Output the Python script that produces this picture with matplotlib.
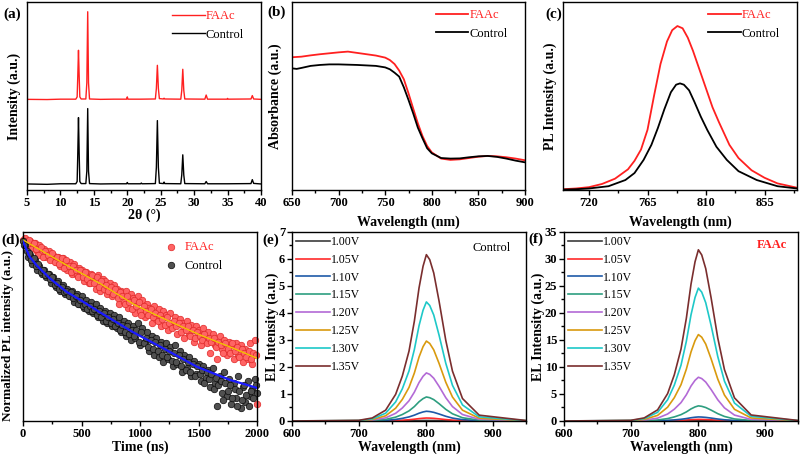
import matplotlib
matplotlib.use("Agg")
import matplotlib.pyplot as plt
from matplotlib.ticker import MultipleLocator

plt.rcParams['font.family'] = ['Liberation Serif', 'DejaVu Serif']

# ---------- (a) XRD ----------
xrd_ctrl_2theta = [5.0, 8.0, 10.0, 12.3, 12.5, 12.6, 12.7, 12.8, 12.9, 13.1, 13.8, 13.95, 14.08, 14.2, 14.35,
                   16.0, 18.0, 19.9, 20.0, 20.1, 22.0, 22.1, 22.2, 24.2, 24.35, 24.5, 24.65, 24.8, 25.4, 25.5,
                   25.6, 28.0, 28.15, 28.3, 28.45, 28.6, 31.6, 31.8, 32.0, 35.0, 38.5, 38.7, 38.9, 40.0]
xrd_ctrl = [0.032, 0.030, 0.033, 0.033, 0.045, 0.20, 0.385, 0.20, 0.045, 0.034, 0.034, 0.10, 0.433, 0.10, 0.034,
            0.032, 0.033, 0.033, 0.040, 0.033, 0.033, 0.037, 0.033, 0.034, 0.12, 0.369, 0.12, 0.036, 0.034, 0.042,
            0.034, 0.033, 0.08, 0.187, 0.08, 0.034, 0.033, 0.045, 0.033, 0.033, 0.034, 0.055, 0.035, 0.032]
xrd_faac_2theta = [5.0, 8.0, 10.0, 12.3, 12.5, 12.6, 12.7, 12.8, 12.9, 13.1, 13.8, 13.95, 14.08, 14.2, 14.35,
                   16.0, 18.0, 19.9, 20.0, 20.1, 22.0, 24.2, 24.35, 24.5, 24.65, 24.8, 25.4, 25.5, 25.6,
                   28.0, 28.15, 28.3, 28.45, 28.6, 31.6, 31.8, 32.0, 34.9, 35.0, 35.1, 38.5, 38.7, 38.9, 40.0]
xrd_faac = [0.032, 0.031, 0.033, 0.033, 0.045, 0.16, 0.293, 0.16, 0.045, 0.034, 0.034, 0.12, 0.498, 0.12, 0.034,
            0.032, 0.033, 0.033, 0.045, 0.033, 0.033, 0.034, 0.09, 0.213, 0.09, 0.036, 0.034, 0.038, 0.034,
            0.033, 0.08, 0.192, 0.08, 0.034, 0.033, 0.055, 0.033, 0.033, 0.037, 0.033, 0.034, 0.052, 0.034, 0.032]
xrd_offset = 0.45

# ---------- (b) absorbance ----------
abs_wl_ctrl = [650, 655, 660, 670, 680, 690, 700, 720, 740, 750, 755, 760, 765, 770, 775, 780, 785, 790, 795,
               800, 810, 820, 830, 840, 850, 860, 870, 880, 890, 900]
abs_ctrl = [0.647, 0.644, 0.649, 0.660, 0.665, 0.668, 0.668, 0.665, 0.660, 0.652, 0.642, 0.624, 0.603, 0.546,
            0.479, 0.408, 0.332, 0.275, 0.222, 0.195, 0.170, 0.167, 0.168, 0.174, 0.179, 0.181, 0.176, 0.167,
            0.156, 0.147]
abs_wl_faac = [650, 660, 670, 680, 690, 700, 710, 720, 730, 740, 750, 755, 760, 765, 770, 775, 780, 785, 790,
               795, 800, 810, 820, 830, 840, 850, 860, 870, 880, 890, 900]
abs_faac = [0.706, 0.709, 0.716, 0.722, 0.727, 0.732, 0.736, 0.729, 0.722, 0.715, 0.704, 0.691, 0.670, 0.635,
            0.589, 0.514, 0.434, 0.355, 0.287, 0.234, 0.200, 0.167, 0.160, 0.163, 0.170, 0.177, 0.181, 0.179,
            0.174, 0.167, 0.158]

# ---------- (c) steady-state PL ----------
pl_wl_faac = [700, 710, 720, 730, 740, 750, 755, 760, 765, 770, 775, 780, 784, 788, 792, 796, 800, 805, 810,
              815, 820, 828, 835, 845, 855, 865, 880]
pl_faac = [0.004, 0.008, 0.015, 0.032, 0.06, 0.11, 0.155, 0.215, 0.32, 0.50, 0.67, 0.79, 0.85, 0.872, 0.86,
           0.81, 0.74, 0.64, 0.54, 0.44, 0.36, 0.24, 0.17, 0.105, 0.065, 0.035, 0.012]
pl_wl_ctrl = [700, 710, 720, 735, 748, 755, 762, 768, 773, 778, 783, 787, 790, 793, 797, 801, 806, 811, 818,
              826, 835, 849, 865, 880]
pl_ctrl = [0.002, 0.004, 0.008, 0.02, 0.053, 0.09, 0.16, 0.24, 0.33, 0.43, 0.52, 0.56, 0.567, 0.56, 0.53,
           0.47, 0.39, 0.319, 0.23, 0.16, 0.10, 0.053, 0.02, 0.008]

# ---------- (d) TRPL ----------
trpl_t = [0, 20, 40, 60, 80, 100, 120, 140, 160, 180, 200, 220, 240, 260, 280, 300, 320, 340, 360, 380,
          400, 420, 440, 460, 480, 500, 520, 540, 560, 580, 600, 620, 640, 660, 680, 700, 720, 740, 760, 780,
          800, 820, 840, 860, 880, 900, 920, 940, 960, 980, 1000, 1020, 1040, 1060, 1080, 1100, 1120, 1140,
          1160, 1180, 1200, 1220, 1240, 1260, 1280, 1300, 1320, 1340, 1360, 1380, 1400, 1420, 1440, 1460,
          1480, 1500, 1520, 1540, 1560, 1580, 1600, 1620, 1640, 1660, 1680, 1700, 1720, 1740, 1760, 1780,
          1800, 1820, 1840, 1860, 1880, 1900, 1920, 1940, 1960, 1980, 2000]
trpl_faac = [0.96, 0.97, 0.94, 0.95, 0.92, 0.94, 0.90, 0.93, 0.89, 0.91, 0.87, 0.90, 0.86, 0.88, 0.84, 0.87,
             0.82, 0.86, 0.84, 0.80, 0.84, 0.78, 0.83, 0.77, 0.81, 0.80, 0.74, 0.79, 0.73, 0.78, 0.76, 0.70,
             0.77, 0.69, 0.75, 0.74, 0.67, 0.73, 0.66, 0.72, 0.70, 0.62, 0.69, 0.63, 0.69, 0.60, 0.67, 0.65,
             0.57, 0.66, 0.58, 0.64, 0.55, 0.62, 0.60, 0.52, 0.61, 0.54, 0.59, 0.50, 0.58, 0.56, 0.48, 0.57,
             0.50, 0.55, 0.46, 0.54, 0.52, 0.44, 0.53, 0.46, 0.51, 0.42, 0.50, 0.48, 0.40, 0.49, 0.43, 0.47,
             0.36, 0.46, 0.40, 0.33, 0.45, 0.38, 0.43, 0.35, 0.42, 0.40, 0.33, 0.41, 0.35, 0.40, 0.31, 0.38,
             0.33, 0.41, 0.30, 0.43, 0.09]
trpl_ctrl = [0.95, 0.93, 0.87, 0.88, 0.83, 0.85, 0.80, 0.82, 0.78, 0.80, 0.76, 0.78, 0.73, 0.76, 0.71, 0.74,
             0.69, 0.72, 0.67, 0.70, 0.66, 0.69, 0.63, 0.67, 0.62, 0.66, 0.60, 0.64, 0.58, 0.63, 0.57, 0.62,
             0.55, 0.60, 0.53, 0.58, 0.52, 0.57, 0.50, 0.56, 0.49, 0.55, 0.47, 0.53, 0.45, 0.52, 0.43, 0.50,
             0.44, 0.52, 0.40, 0.49, 0.42, 0.47, 0.37, 0.45, 0.35, 0.44, 0.34, 0.42, 0.31, 0.41, 0.33, 0.39,
             0.29, 0.40, 0.30, 0.37, 0.26, 0.35, 0.28, 0.34, 0.24, 0.32, 0.25, 0.30, 0.21, 0.29, 0.23, 0.27,
             0.18, 0.28, 0.20, 0.08, 0.24, 0.15, 0.26, 0.13, 0.22, 0.09, 0.20, 0.12, 0.24, 0.07, 0.18, 0.10,
             0.21, 0.13, 0.17, 0.22, 0.15]
trpl_t2 = [10, 30, 50, 70, 90, 110, 130, 150, 170, 190, 210, 230, 250, 270, 290, 310, 330, 350, 370, 390,
           410, 430, 450, 470, 490, 510, 530, 550, 570, 590, 610, 630, 650, 670, 690, 710, 730, 750, 770, 790,
           810, 830, 850, 870, 890, 910, 930, 950, 970, 990, 1010, 1030, 1050, 1070, 1090, 1110, 1130, 1150,
           1170, 1190, 1210, 1230, 1250, 1270, 1290, 1310, 1330, 1350, 1370, 1390, 1410, 1430, 1450, 1470,
           1490, 1510, 1530, 1550, 1570, 1590, 1610, 1630, 1650, 1670, 1690, 1710, 1730, 1750, 1770, 1790,
           1810, 1830, 1850, 1870, 1890, 1910, 1930, 1950, 1970, 1990]
trpl_faac2 = [0.95, 0.93, 0.96, 0.91, 0.94, 0.91, 0.88, 0.92, 0.87, 0.90, 0.88, 0.85, 0.89, 0.84, 0.87, 0.83,
              0.86, 0.81, 0.85, 0.82, 0.79, 0.82, 0.80, 0.76, 0.80, 0.76, 0.79, 0.75, 0.73, 0.77, 0.73, 0.76,
              0.71, 0.74, 0.70, 0.72, 0.69, 0.71, 0.67, 0.70, 0.65, 0.68, 0.66, 0.62, 0.66, 0.63, 0.59, 0.64,
              0.61, 0.63, 0.56, 0.61, 0.58, 0.56, 0.59, 0.55, 0.57, 0.53, 0.56, 0.54, 0.51, 0.55, 0.52, 0.49,
              0.53, 0.50, 0.52, 0.47, 0.50, 0.48, 0.50, 0.45, 0.48, 0.44, 0.47, 0.45, 0.43, 0.46, 0.41, 0.44,
              0.42, 0.44, 0.39, 0.42, 0.40, 0.36, 0.41, 0.38, 0.36, 0.41, 0.37, 0.39, 0.34, 0.38, 0.36, 0.34,
              0.37, 0.33, 0.36, 0.35]
trpl_ctrl2 = [0.93, 0.90, 0.89, 0.85, 0.86, 0.82, 0.83, 0.79, 0.80, 0.77, 0.78, 0.75, 0.76, 0.72, 0.73, 0.70,
              0.71, 0.68, 0.69, 0.66, 0.68, 0.65, 0.66, 0.62, 0.64, 0.61, 0.62, 0.59, 0.61, 0.58, 0.59, 0.56,
              0.58, 0.55, 0.57, 0.53, 0.55, 0.52, 0.54, 0.50, 0.52, 0.48, 0.51, 0.47, 0.50, 0.46, 0.48, 0.45,
              0.48, 0.42, 0.47, 0.41, 0.44, 0.39, 0.43, 0.38, 0.42, 0.37, 0.40, 0.35, 0.38, 0.34, 0.37, 0.32,
              0.36, 0.31, 0.35, 0.29, 0.33, 0.27, 0.31, 0.26, 0.30, 0.24, 0.29, 0.25, 0.27, 0.20, 0.26, 0.22,
              0.25, 0.17, 0.23, 0.19, 0.21, 0.11, 0.20, 0.16, 0.19, 0.12, 0.17, 0.08, 0.16, 0.11, 0.19, 0.14,
              0.08, 0.16, 0.12, 0.19]
fit_t_faac = [0, 371, 657, 957, 1229, 1514, 1800, 2000]
fit_faac = [0.958, 0.825, 0.728, 0.614, 0.534, 0.455, 0.384, 0.332]
fit_t_ctrl = [0, 57, 114, 229, 371, 514, 657, 800, 943, 1200, 1486, 1771, 2000]
fit_ctrl = [0.949, 0.869, 0.825, 0.755, 0.684, 0.631, 0.575, 0.522, 0.469, 0.384, 0.287, 0.217, 0.175]

# ---------- (e), (f) EL ----------
voltages = ['1.00V', '1.05V', '1.10V', '1.15V', '1.20V', '1.25V', '1.30V', '1.35V']
el_colors = ['#3c3c3c', '#ff2a2a', '#1f5aa8', '#2e9e80', '#b36ad6', '#d99a0e', '#1ec8c8', '#7a2e2e']
el_wl = [600, 700, 720, 740, 755, 765, 775, 783, 790, 796, 801, 806, 812, 820, 830, 840, 855, 880, 950]
el_control = [
    [0, 0.0, 0.0, 0.001, 0.003, 0.005, 0.008, 0.012, 0.016, 0.019, 0.02, 0.019, 0.018, 0.014, 0.01, 0.006, 0.003, 0.001, 0.0],
    [0, 0.0, 0.002, 0.007, 0.018, 0.03, 0.046, 0.066, 0.088, 0.102, 0.11, 0.107, 0.098, 0.079, 0.053, 0.033, 0.015, 0.004, 0.0],
    [0, 0.001, 0.006, 0.023, 0.058, 0.097, 0.151, 0.216, 0.288, 0.335, 0.36, 0.349, 0.32, 0.259, 0.175, 0.108, 0.049, 0.013, 0.001],
    [0, 0.004, 0.016, 0.058, 0.142, 0.24, 0.374, 0.534, 0.712, 0.828, 0.89, 0.863, 0.792, 0.641, 0.432, 0.267, 0.12, 0.031, 0.003],
    [0, 0.007, 0.032, 0.116, 0.285, 0.481, 0.748, 1.068, 1.424, 1.655, 1.78, 1.727, 1.584, 1.282, 0.863, 0.534, 0.24, 0.062, 0.005],
    [0, 0.012, 0.053, 0.192, 0.474, 0.799, 1.243, 1.776, 2.368, 2.753, 2.96, 2.871, 2.634, 2.131, 1.436, 0.888, 0.4, 0.104, 0.009],
    [0, 0.018, 0.079, 0.287, 0.706, 1.191, 1.852, 2.646, 3.528, 4.101, 4.41, 4.278, 3.925, 3.175, 2.139, 1.323, 0.595, 0.154, 0.013],
    [0, 0.025, 0.111, 0.4, 0.986, 1.663, 2.587, 3.696, 4.928, 5.729, 6.16, 5.975, 5.482, 4.435, 2.988, 1.848, 0.832, 0.216, 0.018],
]
el_faac = [
    [0, 0.0, 0.001, 0.003, 0.008, 0.014, 0.021, 0.03, 0.04, 0.047, 0.05, 0.049, 0.045, 0.036, 0.024, 0.015, 0.007, 0.002, 0.0],
    [0, 0.001, 0.005, 0.02, 0.048, 0.081, 0.126, 0.18, 0.24, 0.279, 0.3, 0.291, 0.267, 0.216, 0.146, 0.09, 0.041, 0.011, 0.001],
    [0, 0.003, 0.014, 0.049, 0.12, 0.203, 0.315, 0.45, 0.6, 0.698, 0.75, 0.728, 0.668, 0.54, 0.364, 0.225, 0.101, 0.026, 0.002],
    [0, 0.011, 0.05, 0.182, 0.448, 0.756, 1.176, 1.68, 2.24, 2.604, 2.8, 2.716, 2.492, 2.016, 1.358, 0.84, 0.378, 0.098, 0.008],
    [0, 0.032, 0.146, 0.527, 1.296, 2.187, 3.402, 4.86, 6.48, 7.533, 8.1, 7.857, 7.209, 5.832, 3.929, 2.43, 1.094, 0.284, 0.024],
    [0, 0.064, 0.288, 1.04, 2.56, 4.32, 6.72, 9.6, 12.8, 14.88, 16.0, 15.52, 14.24, 11.52, 7.76, 4.8, 2.16, 0.56, 0.048],
    [0, 0.098, 0.443, 1.599, 3.936, 6.642, 10.332, 14.76, 19.68, 22.878, 24.6, 23.862, 21.894, 17.712, 11.931, 7.38, 3.321, 0.861, 0.074],
    [0, 0.127, 0.571, 2.061, 5.072, 8.559, 13.314, 19.02, 25.36, 29.481, 31.7, 30.749, 28.213, 22.824, 15.375, 9.51, 4.28, 1.11, 0.095],
]

RED = '#ff2020'
TICK_FS = 9
LABEL_FS = 10


def style(ax, xlabel, ylabel, xlab_y, ylab_x, ylabels=False, ylab_y=0.5, ylab_fs=LABEL_FS):
    for s in ax.spines.values():
        s.set_linewidth(1.0)
    ax.tick_params(which='both', direction='out', width=1.0, labelsize=TICK_FS, pad=1.5)
    ax.tick_params(which='major', length=3.5)
    ax.tick_params(which='minor', length=2)
    if not ylabels:
        ax.set_yticks([])
    for lab in ax.get_xticklabels() + ax.get_yticklabels():
        lab.set_fontweight('bold')
    ax.set_xlabel(xlabel, fontsize=LABEL_FS, fontweight='bold')
    ax.set_ylabel(ylabel, fontsize=ylab_fs, fontweight='bold')
    ax.xaxis.label.set_verticalalignment('center')
    ax.yaxis.label.set_verticalalignment('center')
    ax.xaxis.set_label_coords(0.5, xlab_y)
    ax.yaxis.set_label_coords(ylab_x, ylab_y)


def two_legend(ax, x, y):
    ax.legend(loc='upper left', bbox_to_anchor=(x, y), frameon=False, fontsize=9,
              handlelength=2.6, handletextpad=0.1, labelspacing=0.5, borderpad=0, borderaxespad=0,
              labelcolor='linecolor')


fig = plt.figure(figsize=(8, 4.58), dpi=100)
top_b, top_h = 0.5852, 0.4105
bot_b, bot_h = 0.0808, 0.4127

# (a)
ax = fig.add_axes([0.03375, top_b, 0.2925, top_h])
ax.plot(xrd_faac_2theta, [v + xrd_offset for v in xrd_faac], color=RED, lw=1.0, label='FAAc')
ax.plot(xrd_ctrl_2theta, xrd_ctrl, color='black', lw=1.0, label='Control')
ax.set_xlim(5, 40)
ax.set_ylim(0, 1)
ax.xaxis.set_major_locator(MultipleLocator(5))
ax.xaxis.set_minor_locator(MultipleLocator(2.5))
style(ax, '2θ (°)', 'Intensity (a.u.)', -0.135, -0.056)
two_legend(ax, 0.62, 0.955)

# (b)
ax = fig.add_axes([0.365, top_b, 0.29125, top_h])
ax.plot(abs_wl_faac, abs_faac, color=RED, lw=1.3, label='FAAc')
ax.plot(abs_wl_ctrl, abs_ctrl, color='black', lw=1.3, label='Control')
ax.set_xlim(650, 900)
ax.set_ylim(0, 1)
ax.xaxis.set_major_locator(MultipleLocator(50))
ax.xaxis.set_minor_locator(MultipleLocator(25))
style(ax, 'Wavelength (nm)', 'Absorbance (a.u.)', -0.17, -0.073)
two_legend(ax, 0.618, 0.96)

# (c)
ax = fig.add_axes([0.70375, top_b, 0.2925, top_h])
ax.plot(pl_wl_faac, pl_faac, color=RED, lw=1.3, label='FAAc')
ax.plot(pl_wl_ctrl, pl_ctrl, color='black', lw=1.3, label='Control')
ax.set_xlim(700, 880)
ax.set_ylim(0, 1)
ax.set_xticks([720, 765, 810, 855])
ax.xaxis.set_minor_locator(MultipleLocator(22.5))
style(ax, 'Wavelength (nm)', 'PL Intensity (a.u.)', -0.17, -0.056)
two_legend(ax, 0.62, 0.96)

# (d)
ax = fig.add_axes([0.02875, bot_b, 0.2925, bot_h])
ax.scatter(trpl_t, trpl_faac, s=22, facecolor='#ff6464', edgecolor='#e02828', linewidth=0.5,
           label='FAAc', zorder=2, clip_on=False)
ax.scatter(trpl_t2, trpl_faac2, s=22, facecolor='#ff6464', edgecolor='#e02828', linewidth=0.5,
           zorder=2, clip_on=False)
ax.scatter(trpl_t, trpl_ctrl, s=22, facecolor='#505050', edgecolor='#0a0a0a', linewidth=0.5,
           label='Control', zorder=2, clip_on=False)
ax.scatter(trpl_t2, trpl_ctrl2, s=22, facecolor='#505050', edgecolor='#0a0a0a', linewidth=0.5,
           zorder=2, clip_on=False)
ax.plot(fit_t_faac, fit_faac, color='#f2c300', lw=1.0, zorder=3)
ax.plot(fit_t_ctrl, fit_ctrl, color='#1a1aff', lw=1.6, zorder=3)
ax.set_xlim(0, 2000)
ax.set_ylim(0, 1)
ax.xaxis.set_major_locator(MultipleLocator(500))
ax.xaxis.set_minor_locator(MultipleLocator(250))
style(ax, 'Time (ns)', 'Normalized PL intensity (a.u.)', -0.14, -0.064, ylab_y=0.45, ylab_fs=9.5)
leg = ax.legend(loc='upper left', bbox_to_anchor=(0.6, 0.95), frameon=False, fontsize=9,
                handlelength=1.2, handletextpad=0.5, labelspacing=0.5, borderpad=0, borderaxespad=0)
leg.get_texts()[0].set_color(RED)

# (e)
ax = fig.add_axes([0.365, bot_b, 0.2925, bot_h])
for lab, col, ys in zip(voltages, el_colors, el_control):
    ax.plot(el_wl, ys, color=col, lw=1.2, label=lab)
ax.set_xlim(600, 950)
ax.set_ylim(0, 7)
ax.xaxis.set_major_locator(MultipleLocator(100))
ax.xaxis.set_minor_locator(MultipleLocator(50))
ax.yaxis.set_major_locator(MultipleLocator(1))
ax.yaxis.set_minor_locator(MultipleLocator(0.5))
style(ax, 'Wavelength (nm)', 'EL Intensity (a.u.)', -0.14, -0.085, ylabels=True)
ax.legend(loc='upper left', bbox_to_anchor=(0.017, 0.98), frameon=False, fontsize=8.5,
          handlelength=2.9, handletextpad=0.1, labelspacing=0.5, borderpad=0, borderaxespad=0)
ax.text(0.773, 0.915, 'Control', transform=ax.transAxes, fontsize=9, ha='left', va='center')

# (f)
ax = fig.add_axes([0.705, bot_b, 0.2925, bot_h])
for lab, col, ys in zip(voltages, el_colors, el_faac):
    ax.plot(el_wl, ys, color=col, lw=1.2, label=lab)
ax.set_xlim(600, 950)
ax.set_ylim(0, 35)
ax.xaxis.set_major_locator(MultipleLocator(100))
ax.xaxis.set_minor_locator(MultipleLocator(50))
ax.yaxis.set_major_locator(MultipleLocator(5))
ax.yaxis.set_minor_locator(MultipleLocator(2.5))
style(ax, 'Wavelength (nm)', 'EL Intensity (a.u.)', -0.14, -0.111, ylabels=True)
ax.legend(loc='upper left', bbox_to_anchor=(0.016, 0.98), frameon=False, fontsize=8.5,
          handlelength=2.9, handletextpad=0.1, labelspacing=0.5, borderpad=0, borderaxespad=0)
ax.text(0.825, 0.931, 'FAAc', transform=ax.transAxes, fontsize=9, ha='left', va='center',
        color=RED, fontweight='bold')

# panel letters
for txt, x, y in [('(a)', 12, 14), ('(b)', 277, 12), ('(c)', 554, 14),
                  ('(d)', 11, 240), ('(e)', 271, 240), ('(f)', 536, 239)]:
    fig.text(x / 800, 1 - y / 458, txt, fontsize=11, fontweight='bold', ha='center', va='center')

fig.savefig('out.png', dpi=100)
